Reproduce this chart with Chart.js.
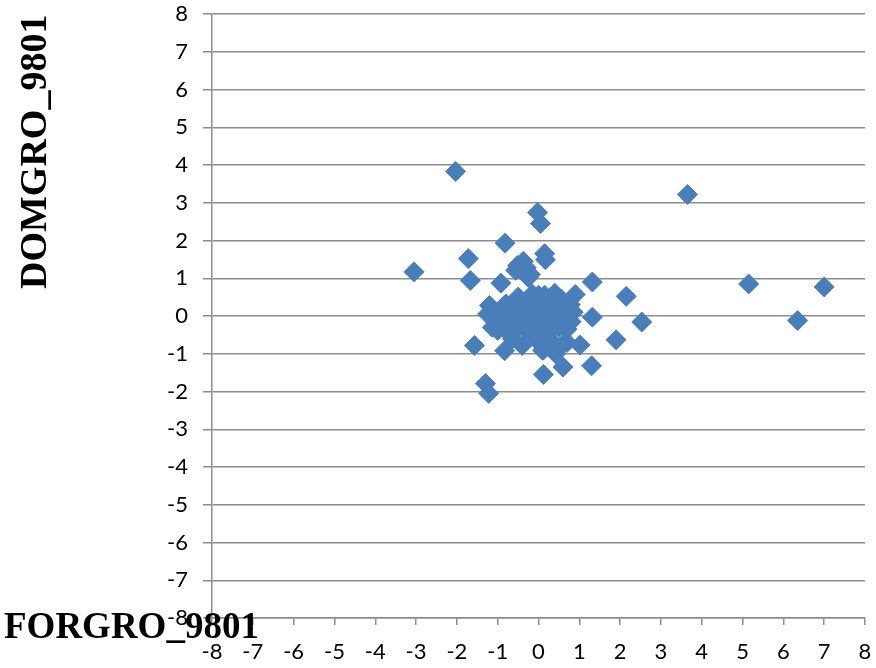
<!DOCTYPE html>
<html><head><meta charset="utf-8">
<script src="https://cdn.jsdelivr.net/npm/chart.js@4/dist/chart.umd.min.js"></script>
<style>html,body{margin:0;padding:0;background:#fff}</style>
</head><body>
<canvas id="c" width="876" height="668"></canvas>
<script>
const xTitle = "FORGRO_9801";
const yTitle = "DOMGRO_9801";
const axisMin = -8, axisMax = 8, axisStep = 1;

// FORGRO_9801 (x) values
const forgro = [
  -2.03, 3.65, -0.02, 0.05, -0.82, 0.15, 0.17, -1.72, -3.05, -1.67,
  -0.92, 1.32, 5.15, 7.00, 2.15, 0.90, 2.53, 6.35, 1.32, 1.90,
  -1.57, 1.02, 0.12, 0.60, 1.30, -1.30, -1.22, -0.83, -0.37, -0.51,
  -0.56, -0.20, -0.30, -0.25,
  -1.20, -1.25, -1.10, -1.15, -1.05, -1.00, -0.95, -0.90, -0.85, -0.80,
  -0.75, -0.70, -0.68, -0.65, -0.60, -0.55, -0.50, -0.45, -0.40, -0.40,
  -0.35, -0.30, -0.28, -0.25, -0.20, -0.18, -0.15, -0.10, -0.08, -0.05,
  0.00, 0.00, 0.05, 0.08, 0.10, 0.12, 0.15, 0.18, 0.20, 0.25,
  0.28, 0.30, 0.35, 0.38, 0.42, 0.45, 0.48, 0.50, 0.55, 0.60,
  0.62, 0.65, 0.70, 0.72, 0.78, 0.80, 0.85, -0.64, -1.13, 0.10,
  0.70, -0.50, -0.90, 0.00, 0.30, 0.40, -0.15, 0.55
];
// DOMGRO_9801 (y) values
const domgro = [
  3.83, 3.22, 2.74, 2.45, 1.93, 1.65, 1.49, 1.52, 1.17, 0.94,
  0.87, 0.90, 0.85, 0.77, 0.52, 0.57, -0.16, -0.12, -0.03, -0.63,
  -0.78, -0.77, -1.55, -1.35, -1.32, -1.79, -2.05, -0.92, 1.45, 1.34,
  1.21, 1.10, 1.28, 1.02,
  0.28, 0.05, -0.10, 0.15, -0.30, -0.38, 0.10, 0.20, -0.05, 0.32,
  -0.20, 0.05, -0.50, 0.25, -0.10, 0.15, -0.30, 0.40, -0.78, 0.00,
  -0.15, 0.30, -0.40, 0.10, -0.05, 0.45, -0.25, 0.20, -0.60, 0.00,
  0.35, -0.20, 0.50, -0.35, 0.10, -0.90, 0.55, -0.10, 0.30, -0.45,
  0.05, 0.50, 0.20, -0.20, -1.00, 0.40, 0.00, -0.30, 0.25, -0.10,
  -0.73, 0.15, -0.35, 0.05, 0.30, -0.15, 0.10, -0.60, -0.30, -0.91,
  -0.70, 0.50, -0.25, 0.55, -0.65, 0.60, 0.58, 0.45
];

const points = forgro.map((x, i) => ({ x: x, y: domgro[i] }));

const titlePlugin = {
  id: 'axisTitles',
  afterDraw(chart) {
    const ctx = chart.ctx;
    ctx.save();
    ctx.fillStyle = '#000';
    ctx.textAlign = 'left';
    ctx.textBaseline = 'alphabetic';
    ctx.font = 'bold 37px "Liberation Serif", "Times New Roman", serif';
    ctx.fillText(xTitle, 4, 638);
    ctx.font = 'bold 38px "Liberation Serif", "Times New Roman", serif';
    ctx.translate(46, 289);
    ctx.rotate(-Math.PI / 2);
    ctx.fillText(yTitle, 0, 0);
    ctx.restore();
  }
};

const tickFont = { family: 'Lato, "Open Sans", sans-serif', size: 22 };
const gridColor = '#8c8c8c';

new Chart(document.getElementById('c'), {
  type: 'scatter',
  data: {
    datasets: [{
      label: yTitle,
      data: points,
      pointStyle: 'rectRot',
      pointRadius: 10,
      pointHoverRadius: 10,
      backgroundColor: '#4A7EBB',
      borderColor: '#4A7EBB',
      borderWidth: 1
    }]
  },
  options: {
    responsive: false,
    animation: false,
    events: [],
    layout: { padding: { top: 14, right: 11, left: 0, bottom: 0 } },
    plugins: { legend: { display: false }, tooltip: { enabled: false } },
    scales: {
      x: {
        type: 'linear', min: axisMin, max: axisMax,
        ticks: { stepSize: axisStep, color: '#000', font: tickFont, padding: 14, maxRotation: 0, autoSkip: false },
        grid: { drawOnChartArea: false, drawTicks: true, tickLength: 7, color: gridColor, lineWidth: 1.5 },
        border: { color: gridColor, width: 1.5 },
        afterFit(scale) { scale.height = 50; scale.paddingLeft = 0; scale.paddingRight = 0; }
      },
      y: {
        type: 'linear', min: axisMin, max: axisMax,
        ticks: { stepSize: axisStep, color: '#000', font: tickFont, padding: 15, autoSkip: false },
        grid: { drawOnChartArea: true, drawTicks: true, tickLength: 9, color: gridColor, lineWidth: 1.5 },
        border: { color: gridColor, width: 1.5 },
        afterFit(scale) { scale.width = 212; scale.paddingTop = 0; scale.paddingBottom = 0; }
      }
    }
  },
  plugins: [titlePlugin]
});
</script>
</body></html>
